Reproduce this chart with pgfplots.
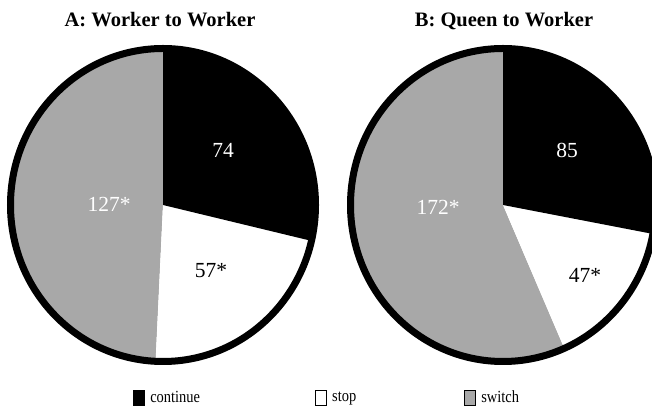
\documentclass[border=0pt]{standalone}
\usepackage{pgfplots}
\pgfplotsset{compat=1.18}
\usepackage{pgfplotstable}
\usepackage{fontspec}
\setmainfont{Liberation Serif}

\pgfplotstableread{
category A B
continue 74 85
stop 57 47
switch 127 172
}\piedata

\newcommand\getval[3]{\pgfplotstablegetelem{#2}{#3}\of\piedata\xdef#1{\pgfplotsretval}}
\getval\Ac{0}{A}\getval\As{1}{A}\getval\Aw{2}{A}
\getval\Bc{0}{B}\getval\Bs{1}{B}\getval\Bw{2}{B}
\pgfmathsetmacro\At{\Ac+\As+\Aw}
\pgfmathsetmacro\Bt{\Bc+\Bs+\Bw}
\pgfmathsetmacro\Aangb{90-\Ac/\At*360}
\pgfmathsetmacro\Aangc{\Aangb-\As/\At*360}
\pgfmathsetmacro\Bangb{90-\Bc/\Bt*360}
\pgfmathsetmacro\Bangc{\Bangb-\Bs/\Bt*360}
\def\rx{152.5}
\def\ry{156.5}
\definecolor{switchgray}{gray}{0.66}

\newcommand\wedgeslice[5]{%
  \fill[#5] (axis cs:#1,#2) -- (axis cs:{#1+\rx*cos(#3)},{#2+\ry*sin(#3)})
    arc[start angle=#3, end angle=#4, x radius=\rx, y radius=\ry] -- cycle;}
\newcommand\legtext[1]{\hspace{3.5pt}\scalebox{0.85}[1]{#1}}

\begin{document}
\begin{tikzpicture}
\begin{axis}[
  width=652pt, height=411pt, scale only axis,
  xmin=0, xmax=652, ymin=0, ymax=411,
  axis line style={draw=none}, xtick=\empty, ytick=\empty,
  clip=true,
  legend image code/.code={\draw[line width=0.6pt,#1] (0pt,-7.5pt) rectangle (11pt,7.5pt);},
  legend style={at={(axis cs:133,13.5)}, anchor=west, draw=none, fill=none,
    inner sep=0pt, legend columns=3, legend cell align=left,
    font=\fontsize{17}{17}\selectfont,
    /tikz/column 2/.style={column sep=113pt},
    /tikz/column 4/.style={column sep=106pt}},
]
% Pie A
\wedgeslice{163}{206}{\Aangc}{-270}{switchgray}
\wedgeslice{163}{206}{\Aangb}{\Aangc}{white}
\wedgeslice{163}{206}{90}{\Aangb}{black}
\draw[line width=7pt] (axis cs:163,206) ellipse[x radius=\rx, y radius=\ry];
% Pie B
\wedgeslice{503}{206}{\Bangc}{-270}{switchgray}
\wedgeslice{503}{206}{\Bangb}{\Bangc}{white}
\wedgeslice{503}{206}{90}{\Bangb}{black}
\draw[line width=7pt] (axis cs:503,206) ellipse[x radius=\rx, y radius=\ry];
% titles
\node[anchor=base, font=\fontsize{20.5}{20.5}\selectfont\bfseries] at (axis cs:160,384.5) {A: Worker to Worker};
\node[anchor=base, font=\fontsize{20.5}{20.5}\selectfont\bfseries] at (axis cs:504,384.5) {B: Queen to Worker};
% slice labels
\begin{scope}[font=\fontsize{21.5}{21.5}\selectfont]
\node[anchor=base, text=white] at (axis cs:223,253) {\Ac};
\node[anchor=base, text=black] at (axis cs:211,133) {\As*};
\node[anchor=base, text=white] at (axis cs:109,199) {\Aw*};
\node[anchor=base, text=white] at (axis cs:567,253) {\Bc};
\node[anchor=base, text=black] at (axis cs:585,128) {\Bs*};
\node[anchor=base, text=white] at (axis cs:438,196) {\Bw*};
\end{scope}
\addlegendimage{fill=black}
\addlegendentry{\legtext{continue}}
\addlegendimage{fill=white}
\addlegendentry{\legtext{stop}}
\addlegendimage{fill=switchgray}
\addlegendentry{\legtext{switch}}
\end{axis}
\end{tikzpicture}
\end{document}
